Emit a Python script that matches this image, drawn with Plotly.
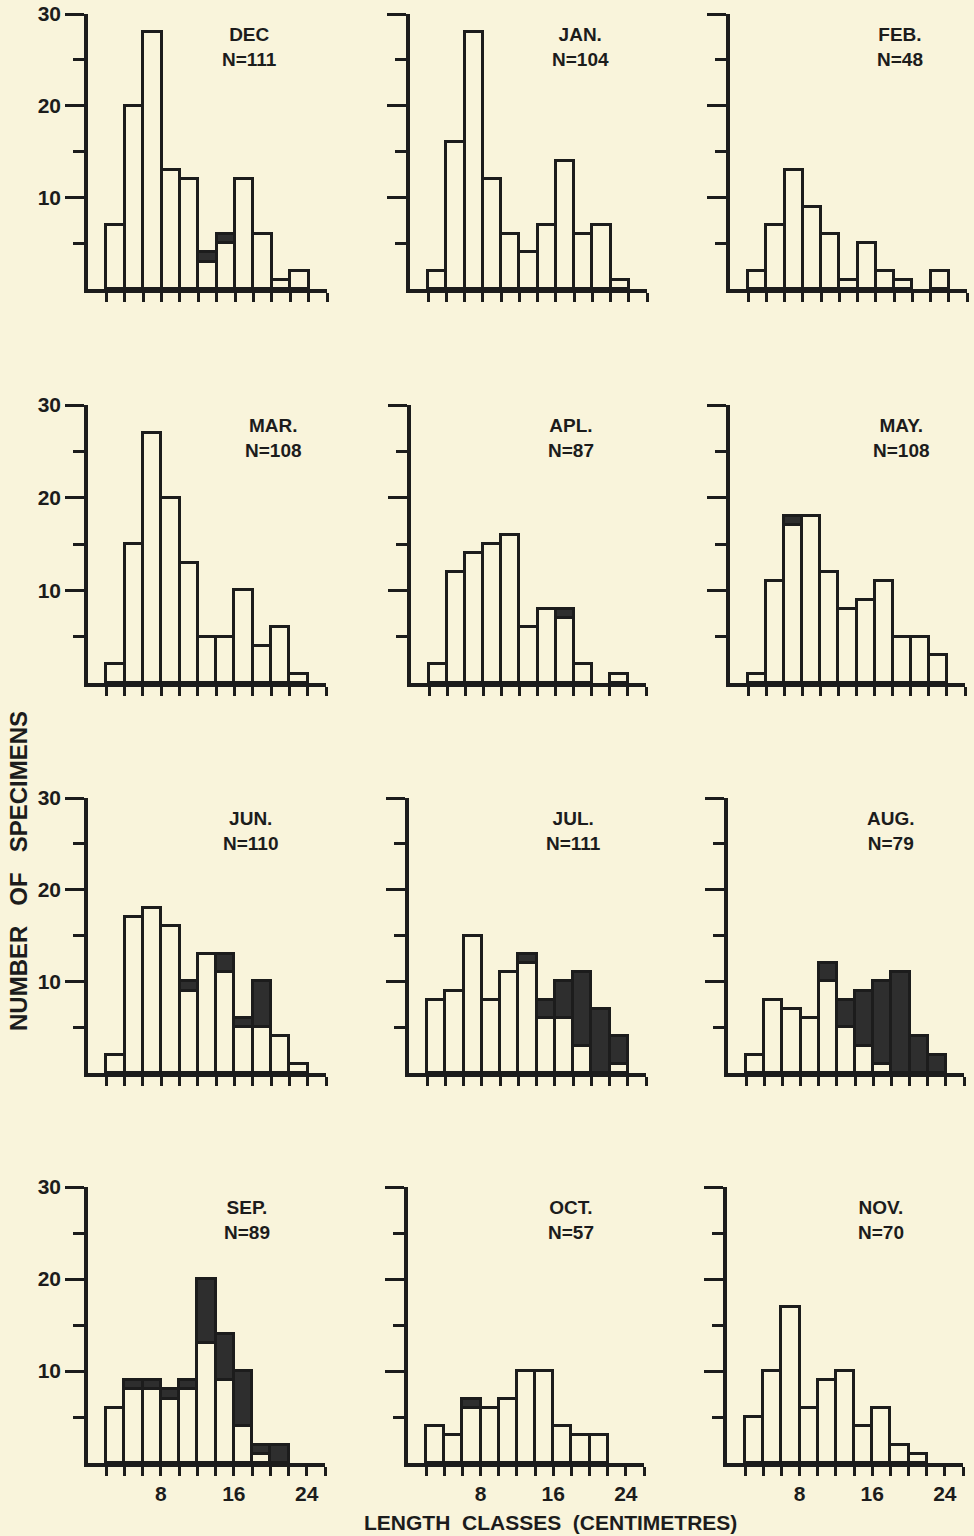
import plotly.graph_objects as go

# ---------------- data ----------------
class_lower = [2, 4, 6, 8, 10, 12, 14, 16, 18, 20, 22]   # 2-cm length classes (cm)
months = ["DEC", "JAN.", "FEB.", "MAR.", "APL.", "MAY.",
          "JUN.", "JUL.", "AUG.", "SEP.", "OCT.", "NOV."]
n_values = [111, 104, 48, 108, 87, 108, 110, 111, 79, 89, 57, 70]

dec_white = [7, 20, 28, 13, 12, 3, 5, 12, 6, 1, 2]
dec_black = [0, 0, 0, 0, 0, 1, 1, 0, 0, 0, 0]
jan_white = [2, 16, 28, 12, 6, 4, 7, 14, 6, 7, 1]
jan_black = [0, 0, 0, 0, 0, 0, 0, 0, 0, 0, 0]
feb_white = [2, 7, 13, 9, 6, 1, 5, 2, 1, 0, 2]
feb_black = [0, 0, 0, 0, 0, 0, 0, 0, 0, 0, 0]
mar_white = [2, 15, 27, 20, 13, 5, 5, 10, 4, 6, 1]
mar_black = [0, 0, 0, 0, 0, 0, 0, 0, 0, 0, 0]
apl_white = [2, 12, 14, 15, 16, 6, 8, 7, 2, 0, 1]
apl_black = [0, 0, 0, 0, 0, 0, 0, 1, 0, 0, 0]
may_white = [1, 11, 17, 18, 12, 8, 9, 11, 5, 5, 3]
may_black = [0, 0, 1, 0, 0, 0, 0, 0, 0, 0, 0]
jun_white = [2, 17, 18, 16, 9, 13, 11, 5, 5, 4, 1]
jun_black = [0, 0, 0, 0, 1, 0, 2, 1, 5, 0, 0]
jul_white = [8, 9, 15, 8, 11, 12, 6, 6, 3, 0, 1]
jul_black = [0, 0, 0, 0, 0, 1, 2, 4, 8, 7, 3]
aug_white = [2, 8, 7, 6, 10, 5, 3, 1, 0, 0, 0]
aug_black = [0, 0, 0, 0, 2, 3, 6, 9, 11, 4, 2]
sep_white = [6, 8, 8, 7, 8, 13, 9, 4, 1, 0, 0]
sep_black = [0, 1, 1, 1, 1, 7, 5, 6, 1, 2, 0]
oct_white = [4, 3, 6, 6, 7, 10, 10, 4, 3, 3, 0]
oct_black = [0, 0, 1, 0, 0, 0, 0, 0, 0, 0, 0]
nov_white = [5, 10, 17, 6, 9, 10, 4, 6, 2, 1, 0]
nov_black = [0, 0, 0, 0, 0, 0, 0, 0, 0, 0, 0]

white_series = [dec_white, jan_white, feb_white, mar_white, apl_white, may_white,
                jun_white, jul_white, aug_white, sep_white, oct_white, nov_white]
black_series = [dec_black, jan_black, feb_black, mar_black, apl_black, may_black,
                jun_black, jul_black, aug_black, sep_black, oct_black, nov_black]

x_tick_vals = [2, 4, 6, 8, 10, 12, 14, 16, 18, 20, 22, 24, 26]
x_tick_text = ["", "", "", "8", "", "", "", "16", "", "", "", "24", ""]
y_major = [10, 20, 30]
y_minor = [5, 15, 25]

# ---------------- layout geometry (pixels) ----------------
W, H = 974, 1536
BG = "#f9f4db"
INK = "#1c1c1c"
FONT = "Liberation Sans"

row_y = [(14, 289), (405, 683), (798, 1073), (1187, 1463)]     # (y at 30, y at 0)
col_x = [[(88, 327), (410, 647), (730, 967)],
         [(88, 326), (411, 646), (730, 965)],
         [(88, 326), (409, 646), (728, 964)],
         [(88, 325), (408, 644), (727, 963)]]
title_x = [17.6, 18.7, 18.7, 20.3, 17.7, 19.0, 17.8, 18.0, 18.0, 17.4, 18.0, 17.0]


def nz(values):
    return [v if v else None for v in values]


fig = go.Figure()
layout = dict(
    width=W, height=H, margin=dict(l=0, r=0, t=0, b=0, autoexpand=False),
    paper_bgcolor=BG, plot_bgcolor=BG, showlegend=False,
    barmode="stack", bargap=0,
    font=dict(family=FONT, color=INK),
)
annotations = []
tfont = dict(family=FONT, size=21, weight="bold", color=INK)
lfont = dict(family=FONT, size=19, weight="bold", color=INK)

for i in range(12):
    r, c = divmod(i, 3)
    k = i + 1
    xa = "x" if k == 1 else f"x{k}"
    ya = "y" if k == 1 else f"y{k}"
    x0, x1 = col_x[r][c]
    y30, y0 = row_y[r]

    fig.add_trace(go.Bar(
        x=class_lower, y=nz(white_series[i]), width=2, offset=0,
        marker=dict(color=BG, line=dict(color=INK, width=2.8)),
        xaxis=xa, yaxis=ya, hoverinfo="skip"))
    fig.add_trace(go.Bar(
        x=class_lower, y=nz(black_series[i]), width=2, offset=0,
        marker=dict(color="#2e2e2e", line=dict(color=INK, width=2.8)),
        xaxis=xa, yaxis=ya, hoverinfo="skip"))

    layout["xaxis" if k == 1 else f"xaxis{k}"] = dict(
        domain=[x0 / W, x1 / W], range=[0, 26], anchor=ya, automargin=False,
        showline=True, linewidth=3.5, linecolor=INK, showgrid=False, zeroline=False,
        tickmode="array", tickvals=x_tick_vals, ticktext=x_tick_text,
        ticks="outside", ticklen=9, tickwidth=3, tickcolor=INK,
        showticklabels=(r == 3), tickfont=tfont, fixedrange=True)
    layout["yaxis" if k == 1 else f"yaxis{k}"] = dict(
        domain=[1 - y0 / H, 1 - y30 / H], range=[0, 30], anchor=xa, automargin=False,
        showline=True, linewidth=3.5, linecolor=INK, showgrid=False, zeroline=False,
        tickmode="array", tickvals=y_major, ticktext=[str(v) for v in y_major],
        ticks="outside", ticklen=19, tickwidth=3, tickcolor=INK,
        minor=dict(tickmode="array", tickvals=y_minor, ticks="outside",
                   ticklen=11, tickwidth=3, tickcolor=INK, showgrid=False),
        showticklabels=(c == 0), tickfont=tfont, fixedrange=True)

    annotations.append(dict(
        x=title_x[i], y=26.4, xref=xa, yref=ya,
        text=f"{months[i]}<br>N={n_values[i]}", showarrow=False, align="center",
        font=lfont, xanchor="center", yanchor="middle"))

annotations.append(dict(
    x=18 / W, y=1 - 871 / H, xref="paper", yref="paper",
    text="NUMBER   OF   SPECIMENS", textangle=-90, showarrow=False,
    font=dict(family=FONT, size=24, weight="bold", color=INK),
    xanchor="center", yanchor="middle"))
annotations.append(dict(
    x=550 / W, y=1 - 1522 / H, xref="paper", yref="paper",
    text="LENGTH  CLASSES  (CENTIMETRES)", showarrow=False,
    font=dict(family=FONT, size=21, weight="bold", color=INK),
    xanchor="center", yanchor="middle"))

layout["annotations"] = annotations
fig.update_layout(**layout)

fig.write_html("out.html", config={"displayModeBar": False},
               post_script="document.body.style.margin='0';")
